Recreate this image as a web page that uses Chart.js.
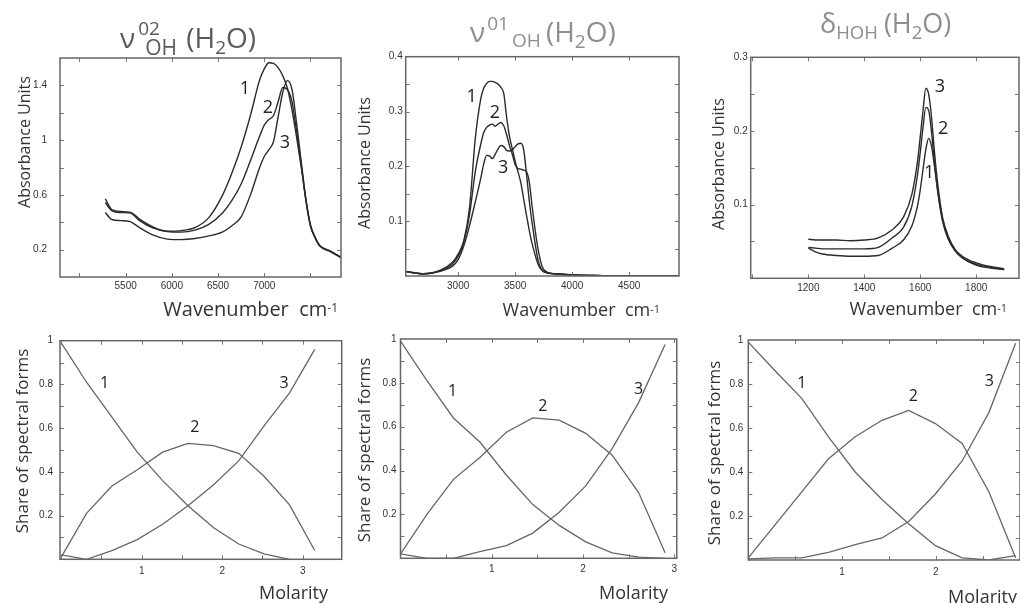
<!DOCTYPE html>
<html>
<head>
<meta charset="utf-8">
<title>Spectral forms of water</title>
<script src="https://cdn.jsdelivr.net/npm/chart.js@4.4.0/dist/chart.umd.min.js"></script>
<style>
  body { margin: 0; background: #fff; }
  #wrap { position: relative; width: 1020px; height: 603px; overflow: hidden; }
  canvas { position: absolute; }
</style>
</head>
<body>
<div id="wrap">
  <canvas id="c1"></canvas>
  <canvas id="c2"></canvas>
  <canvas id="c3"></canvas>
  <canvas id="c4"></canvas>
  <canvas id="c5"></canvas>
  <canvas id="c6"></canvas>
</div>
<script>
// top left: combination band, absorbance vs wavenumber
var nirWave = [5280, 5350, 5450, 5550, 5650, 5800, 5950, 6100, 6250, 6400, 6550, 6650, 6750, 6850, 6950, 7000, 7050, 7100, 7150, 7200, 7250, 7300, 7350, 7400, 7450, 7500, 7550, 7600, 7700, 7830];
var nir1 = [0.571, 0.493, 0.478, 0.474, 0.423, 0.365, 0.335, 0.339, 0.361, 0.434, 0.600, 0.760, 0.950, 1.180, 1.440, 1.520, 1.565, 1.560, 1.530, 1.470, 1.380, 1.220, 1.020, 0.800, 0.566, 0.376, 0.288, 0.229, 0.193, 0.144];
var nir2 = [0.544, 0.485, 0.471, 0.467, 0.412, 0.357, 0.332, 0.328, 0.343, 0.385, 0.470, 0.560, 0.680, 0.850, 1.030, 1.110, 1.150, 1.180, 1.280, 1.385, 1.370, 1.280, 1.060, 0.820, 0.560, 0.372, 0.285, 0.226, 0.190, 0.142];
var nir3 = [0.471, 0.420, 0.412, 0.405, 0.361, 0.306, 0.277, 0.273, 0.281, 0.300, 0.330, 0.375, 0.440, 0.600, 0.800, 0.880, 0.930, 0.990, 1.170, 1.350, 1.435, 1.370, 1.120, 0.840, 0.570, 0.378, 0.290, 0.230, 0.195, 0.146];

// top middle: stretching band
var midWave = [2540, 2700, 2850, 2950, 3000, 3050, 3100, 3150, 3200, 3225, 3250, 3275, 3300, 3325, 3350, 3375, 3400, 3425, 3450, 3475, 3500, 3525, 3550, 3575, 3600, 3625, 3650, 3700, 3750, 3850, 4000, 4200, 4500, 4940];
var mid1 = [0.008, 0.004, 0.011, 0.025, 0.040, 0.065, 0.125, 0.250, 0.325, 0.343, 0.351, 0.355, 0.355, 0.353, 0.350, 0.344, 0.333, 0.290, 0.255, 0.232, 0.209, 0.190, 0.170, 0.140, 0.110, 0.082, 0.058, 0.022, 0.008, 0.004, 0.002, 0.001, 0.000, 0.000];
var mid2 = [0.008, 0.004, 0.010, 0.022, 0.036, 0.062, 0.112, 0.190, 0.242, 0.262, 0.271, 0.275, 0.277, 0.273, 0.277, 0.280, 0.274, 0.258, 0.238, 0.222, 0.203, 0.196, 0.195, 0.193, 0.190, 0.170, 0.125, 0.050, 0.012, 0.004, 0.002, 0.001, 0.000, 0.000];
var mid3 = [0.008, 0.004, 0.009, 0.018, 0.030, 0.055, 0.092, 0.135, 0.180, 0.205, 0.220, 0.219, 0.214, 0.222, 0.232, 0.238, 0.236, 0.229, 0.228, 0.230, 0.236, 0.241, 0.242, 0.230, 0.185, 0.135, 0.095, 0.030, 0.008, 0.004, 0.002, 0.001, 0.000, 0.000];

// top right: bending band
var bendWave = [1200, 1225, 1250, 1300, 1350, 1400, 1450, 1500, 1540, 1570, 1590, 1600, 1610, 1620, 1630, 1640, 1650, 1660, 1670, 1680, 1700, 1725, 1750, 1800, 1850, 1900];
var bend1 = [0.041, 0.036, 0.033, 0.031, 0.030, 0.030, 0.031, 0.041, 0.052, 0.071, 0.098, 0.120, 0.148, 0.175, 0.190, 0.180, 0.155, 0.126, 0.100, 0.080, 0.055, 0.038, 0.028, 0.018, 0.014, 0.012];
var bend2 = [0.042, 0.041, 0.040, 0.040, 0.040, 0.040, 0.042, 0.055, 0.069, 0.098, 0.140, 0.171, 0.205, 0.232, 0.228, 0.200, 0.160, 0.125, 0.098, 0.077, 0.053, 0.037, 0.028, 0.019, 0.015, 0.012];
var bend3 = [0.053, 0.052, 0.052, 0.052, 0.051, 0.052, 0.055, 0.066, 0.083, 0.114, 0.158, 0.192, 0.228, 0.258, 0.250, 0.220, 0.175, 0.136, 0.106, 0.082, 0.057, 0.039, 0.030, 0.021, 0.016, 0.013];

// bottom row: share of spectral forms vs molarity
var mol4 = [0, 0.315, 0.63, 0.945, 1.26, 1.575, 1.89, 2.205, 2.52, 2.835, 3.15];
var share4a = [0.99, 0.81, 0.65, 0.49, 0.36, 0.245, 0.145, 0.07, 0.025, 0.0, null];
var share4b = [0.01, 0.21, 0.335, 0.41, 0.49, 0.53, 0.52, 0.485, 0.38, 0.25, 0.04];
var share4c = [0.02, 0.0, 0.04, 0.09, 0.16, 0.245, 0.34, 0.45, 0.61, 0.76, 0.96];

var mol5 = [0, 0.29, 0.58, 0.87, 1.16, 1.45, 1.74, 2.03, 2.32, 2.61, 2.9];
var share5a = [0.99, 0.81, 0.64, 0.53, 0.38, 0.245, 0.15, 0.075, 0.025, 0.005, 0.0];
var share5b = [0.02, 0.2, 0.36, 0.46, 0.575, 0.64, 0.63, 0.57, 0.47, 0.3, 0.025];
var share5c = [0.02, 0.0, 0.0, 0.03, 0.058, 0.115, 0.21, 0.33, 0.5, 0.71, 0.975];

var mol6 = [0, 0.285, 0.57, 0.855, 1.14, 1.425, 1.71, 1.995, 2.28, 2.565, 2.85];
var share6a = [0.99, 0.86, 0.735, 0.56, 0.4, 0.275, 0.165, 0.065, 0.01, 0.0, 0.02];
var share6b = [0.01, 0.16, 0.31, 0.46, 0.56, 0.635, 0.68, 0.62, 0.53, 0.31, 0.01];
var share6c = [0.005, 0.01, 0.01, 0.035, 0.07, 0.1, 0.175, 0.3, 0.45, 0.67, 0.985];

// tick labels
var nirTicks = [5500, 6000, 6500, 7000], nirYTicks = [0.2, 0.6, 1, 1.4];
var midTicks = [3000, 3500, 4000, 4500], midYTicks = [0.1, 0.2, 0.3, 0.4];
var bendTicks = [1200, 1400, 1600, 1800], bendYTicks = [0.1, 0.2, 0.3];
var molTicks = [1, 2, 3], molTicks6 = [1, 2], shareTicks = [0.2, 0.4, 0.6, 0.8, 1];

var SANS = '"Open Sans", sans-serif';
var tickFont = { family: '"Liberation Sans", Arial, sans-serif', size: 10 };

// text made of runs of different sizes (sub/superscripts)
// run: [text, size, dy, stackOnPrevious, dx]
function drawRich(ctx, segs, x, y, color, draw) {
    var start = x, end = x;
    ctx.fillStyle = color;
    ctx.textAlign = 'left';
    ctx.textBaseline = 'alphabetic';
    segs.forEach(function (s) {
        ctx.font = s[1] + 'px ' + SANS;
        var x0 = (s[3] ? start : end) + (s[4] || 0);
        if (draw) ctx.fillText(s[0], x0, y + s[2]);
        start = x0;
        end = Math.max(end, x0 + ctx.measureText(s[0]).width);
    });
    return end - x;
}

function drawDecor(chart, p) {
    var ctx = chart.ctx, a = chart.chartArea, xs = chart.scales.x, ys = chart.scales.y;
    var ox = p.box[0], oy = p.box[1];
    ctx.save();

    // small inward ticks on all four sides
    ctx.strokeStyle = '#777';
    ctx.lineWidth = 1;
    ctx.beginPath();
    var k, v, q;
    for (k = Math.ceil(p.xMin / p.xStep); k * p.xStep < p.xMax; k++) {
        v = k * p.xStep;
        if (v <= p.xMin) continue;
        q = Math.round(xs.getPixelForValue(v)) + 0.5;
        ctx.moveTo(q, a.bottom); ctx.lineTo(q, a.bottom - 4);
        ctx.moveTo(q, a.top); ctx.lineTo(q, a.top + 4);
    }
    for (k = 1; k * p.yStep < p.yMax - 1e-9; k++) {
        q = Math.round(ys.getPixelForValue(k * p.yStep)) + 0.5;
        ctx.moveTo(a.left, q); ctx.lineTo(a.left + 4, q);
        ctx.moveTo(a.right, q); ctx.lineTo(a.right - 4, q);
    }
    ctx.stroke();

    // frame
    ctx.strokeStyle = '#666';
    ctx.lineWidth = 1.5;
    ctx.strokeRect(a.left, a.top, a.right - a.left, a.bottom - a.top);

    // curve numbers
    ctx.fillStyle = '#222';
    ctx.font = p.markSize + 'px ' + SANS;
    ctx.textAlign = 'center';
    ctx.textBaseline = 'alphabetic';
    p.marks.forEach(function (m) {
        ctx.fillText(m[0], xs.getPixelForValue(m[1]), ys.getPixelForValue(m[2]) + p.markSize * 0.357);
    });

    // title and x axis title
    p.texts.forEach(function (t) {
        var x = t.x - ox;
        if (t.align === 'right') x -= drawRich(ctx, t.segs, 0, 0, t.color, false);
        drawRich(ctx, t.segs, x, t.y - oy, t.color, true);
    });

    // y axis title
    ctx.translate(p.yTitle[1] - ox, p.yTitle[2] - oy);
    ctx.rotate(-Math.PI / 2);
    ctx.fillStyle = '#333';
    ctx.font = p.yTitle[3] + 'px ' + SANS;
    ctx.textAlign = 'center';
    ctx.textBaseline = 'middle';
    ctx.fillText(p.yTitle[0], 0, 0);
    ctx.restore();
}

function makePanel(p) {
    var cv = document.getElementById(p.id);
    cv.width = p.box[2];
    cv.height = p.box[3];
    cv.style.left = p.box[0] + 'px';
    cv.style.top = p.box[1] + 'px';
    var a = p.area;
    var yW = a[0] - p.box[0];
    var xH = p.box[1] + p.box[3] - a[3];
    var datasets = p.series.map(function (ys) {
        return {
            data: p.xs.map(function (x, i) { return { x: x, y: ys[i] }; }),
            borderColor: p.line,
            borderWidth: p.lw,
            pointRadius: 0,
            fill: false,
            tension: p.smooth ? 0.4 : 0,
            cubicInterpolationMode: p.smooth ? 'monotone' : 'default'
        };
    });
    return new Chart(cv, {
        type: 'line',
        data: { datasets: datasets },
        options: {
            responsive: false,
            animation: false,
            events: [],
            layout: { padding: { top: a[1] - p.box[1], right: p.box[0] + p.box[2] - a[2], left: 0, bottom: 0 } },
            plugins: { legend: { display: false }, tooltip: { enabled: false } },
            scales: {
                x: {
                    type: 'linear', min: p.xMin, max: p.xMax,
                    grid: { display: false, drawTicks: false },
                    border: { display: false },
                    ticks: { font: tickFont, color: '#333', padding: p.xPad, maxRotation: 0, autoSkip: false,
                        callback: function (v) { return String(v); } },
                    afterBuildTicks: function (s) { s.ticks = p.xTicks.map(function (v) { return { value: v }; }); },
                    afterFit: function (s) { s.height = xH; }
                },
                y: {
                    type: 'linear', min: 0, max: p.yMax,
                    grid: { display: false, drawTicks: false },
                    border: { display: false },
                    ticks: { font: tickFont, color: '#333', padding: p.yPad, autoSkip: false,
                        callback: function (v) { return String(v); } },
                    afterBuildTicks: function (s) { s.ticks = p.yTicks.map(function (v) { return { value: v }; }); },
                    afterFit: function (s) { s.width = yW; }
                }
            }
        },
        plugins: [{ id: 'decor', afterDraw: function (chart) { drawDecor(chart, p); } }]
    });
}

var titleDark = '#5a5a5a', titleLight = '#8e8e8e';
var waveTitle = [['Wavenumber  cm', 18, 0], ['-1', 11, -3]];

// chart 1
makePanel({
    id: 'c1', box: [0, 0, 345, 320], area: [60, 58, 341, 277],
    xs: nirWave, series: [nir1, nir2, nir3], smooth: true, line: '#2b2b2b', lw: 1.4,
    xMin: 4790, xMax: 7830, xTicks: nirTicks, xStep: 500, xPad: 3,
    yMax: 1.6, yTicks: nirYTicks, yStep: 0.2, yPad: 13,
    markSize: 18, marks: [['1', 6791, 1.383], ['2', 7040, 1.246], ['3', 7224, 0.99]],
    texts: [
        { segs: [['ν', 28, 0], ['02', 19, -13, false, 3], ['OH', 21, 7, true, 7], [' (H', 28, 0, false, 2], ['2', 19, 6], ['O)', 28, 0]], x: 120, y: 48, color: titleDark },
        { segs: [['Wavenumber  cm', 20, 0], ['-1', 12, -4]], x: 338, y: 316, align: 'right', color: '#333' }
    ],
    yTitle: ['Absorbance Units', 25, 142, 16]
});

// chart 2
makePanel({
    id: 'c2', box: [345, 0, 337, 320], area: [405.7, 56.7, 679, 276],
    xs: midWave, series: [mid1, mid2, mid3], smooth: true, line: '#2b2b2b', lw: 1.4,
    xMin: 2540, xMax: 4937, xTicks: midTicks, xStep: 500, xPad: 4,
    yMax: 0.4, yTicks: midYTicks, yStep: 0.05, yPad: 3,
    markSize: 18, marks: [['1', 3118, 0.329], ['2', 3322, 0.299], ['3', 3395, 0.199]],
    texts: [
        { segs: [['ν', 28, 0], ['01', 19, -12, false, 2], ['OH', 19, 5, false, 3], [' (H', 28, 0, false, -2], ['2', 19, 6], ['O)', 28, 0]], x: 470, y: 42, color: titleLight },
        { segs: waveTitle, x: 660, y: 316, align: 'right', color: '#333' }
    ],
    yTitle: ['Absorbance Units', 365, 163, 16]
});

// chart 3
makePanel({
    id: 'c3', box: [682, 0, 338, 320], area: [750.7, 57.3, 1019, 278.3],
    xs: bendWave, series: [bend1, bend2, bend3], smooth: true, line: '#2b2b2b', lw: 1.4,
    xMin: 994, xMax: 1953, xTicks: bendTicks, xStep: 200, xPad: 4,
    yMax: 0.3, yTicks: bendYTicks, yStep: 0.05, yPad: 3,
    markSize: 18, marks: [['3', 1670, 0.262], ['2', 1682, 0.204], ['1', 1632, 0.145]],
    texts: [
        { segs: [['δ', 27, 0], ['HOH', 18.5, 6], [' (H', 27, 0, false, -1], ['2', 18.5, 6], ['O)', 27, 0]], x: 820, y: 33, color: titleLight },
        { segs: waveTitle, x: 1007, y: 315, align: 'right', color: '#333' }
    ],
    yTitle: ['Absorbance Units', 719, 164, 16]
});

// chart 4
makePanel({
    id: 'c4', box: [0, 320, 345, 283], area: [60, 340.7, 341.7, 559.3],
    xs: mol4, series: [share4a, share4b, share4c], smooth: false, line: '#666', lw: 1.3,
    xMin: -0.015, xMax: 3.485, xTicks: molTicks, xStep: 0.5, xPad: 6,
    yMax: 1, yTicks: shareTicks, yStep: 0.1, yPad: 7,
    markSize: 16, marks: [['1', 0.54, 0.812], ['2', 1.66, 0.607], ['3', 2.77, 0.812]],
    texts: [{ segs: [['Molarity', 18, 0]], x: 328, y: 599, align: 'right', color: '#333' }],
    yTitle: ['Share of spectral forms', 23, 441, 17]
});

// chart 5
makePanel({
    id: 'c5', box: [345, 320, 337, 283], area: [400.5, 339, 680, 558.3],
    xs: mol5, series: [share5a, share5b, share5c], smooth: false, line: '#666', lw: 1.3,
    xMin: 0, xMax: 3.028, xTicks: molTicks, xStep: 0.5, xPad: 5,
    yMax: 1, yTicks: shareTicks, yStep: 0.1, yPad: 4,
    markSize: 16, marks: [['1', 0.57, 0.767], ['2', 1.56, 0.699], ['3', 2.61, 0.775]],
    texts: [{ segs: [['Molarity', 18, 0]], x: 668, y: 599, align: 'right', color: '#333' }],
    yTitle: ['Share of spectral forms', 365, 450, 17]
});

// chart 6
makePanel({
    id: 'c6', box: [682, 320, 338, 283], area: [748.3, 340, 1020, 560],
    xs: mol6, series: [share6a, share6b, share6c], smooth: false, line: '#666', lw: 1.3,
    xMin: 0, xMax: 2.897, xTicks: molTicks6, xStep: 0.5, xPad: 6,
    yMax: 1, yTicks: shareTicks, yStep: 0.1, yPad: 5,
    markSize: 16, marks: [['1', 0.57, 0.81], ['2', 1.76, 0.75], ['3', 2.57, 0.818]],
    texts: [{ segs: [['Molarity', 18, 0]], x: 1017, y: 603, align: 'right', color: '#333' }],
    yTitle: ['Share of spectral forms', 715, 453, 17]
});
</script>
</body>
</html>
